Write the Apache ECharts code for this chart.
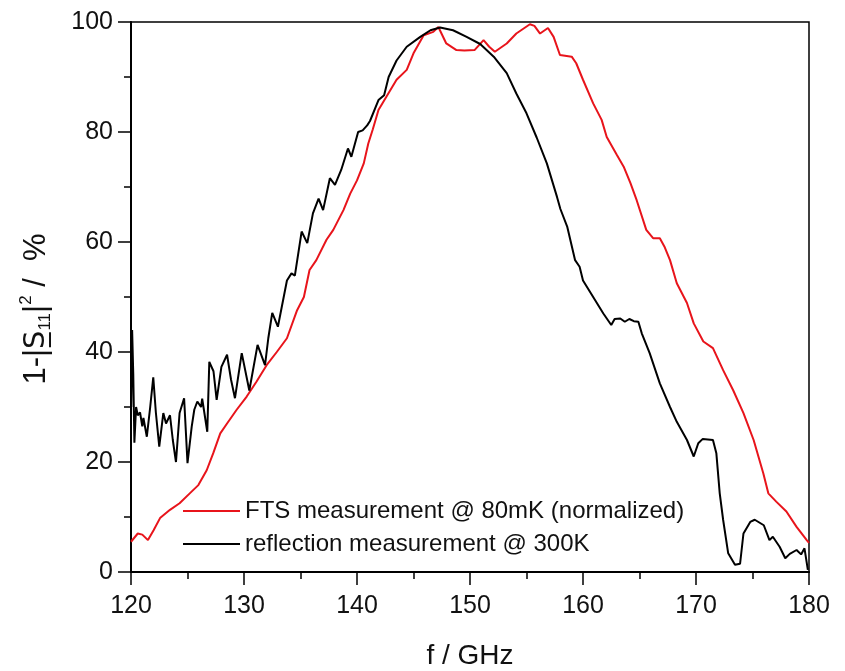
<!DOCTYPE html>
<html>
<head>
<meta charset="utf-8">
<script src="https://cdn.jsdelivr.net/npm/echarts@6/dist/echarts.min.js"></script>
<style>
html,body{margin:0;padding:0;background:#fff;}
#chart{width:845px;height:671px;}
</style>
</head>
<body>
<div id="chart"></div>
<script>
// Reflection measurement @ 300K (black)
var reflFreq = [120.02,120.1,120.2,120.3,120.45,120.6,120.8,121.0,121.1,121.4,121.7,121.97,122.2,122.5,122.86,123.1,123.45,123.7,123.98,124.3,124.7,125.0,125.37,125.6,125.87,126.2,126.3,126.75,126.93,127.3,127.58,128.0,128.5,128.85,129.2,129.8,130.47,131.2,131.86,132.15,132.5,133.0,133.8,134.2,134.5,135.1,135.6,136.1,136.6,137.0,137.6,138.05,138.6,139.2,139.5,140.1,140.5,140.9,141.15,141.9,142.4,142.8,143.5,144.4,145.6,146.5,147.35,148.5,149.7,150.9,152.1,153.25,154.1,155.0,155.9,156.8,157.7,158.0,158.6,159.3,159.7,160.0,160.9,161.8,162.5,162.8,163.3,163.7,164.1,164.5,164.9,165.2,165.9,166.8,167.7,168.3,169.2,169.8,170.2,170.6,171.5,171.8,172.1,172.4,172.85,173.45,173.9,174.2,174.8,175.2,176.0,176.5,176.8,177.4,177.9,178.3,178.9,179.3,179.6,179.9];
var reflValue = [30,44,36,23.5,30,28.5,29,26.5,28,24.6,30,35.4,29,22.8,28.9,27,28.5,24,20,28.9,31.6,19.8,26.4,29.5,31,30,31.5,25.5,38.2,36.5,31.3,37.3,39.5,35,31.6,39.8,33,41.3,37.6,42.5,47.1,44.6,53,54.3,53.9,61.9,59.8,65.2,67.9,65.8,71.6,70.4,73.1,77,75.5,80,80.3,81.2,82,85.8,86.7,90,93,95.5,97.3,98.5,99,98.5,97.3,96,93.7,90.7,87,83.4,79,74.3,68.2,66,62.8,56.7,55.5,53,50,47,44.9,46,46.1,45.5,46,45.6,45.5,43.4,39.8,34.3,30,27.3,24,21,23.4,24.2,24,21.6,14.3,9.5,3.4,1.3,1.5,7,9.1,9.5,8.5,5.8,6.4,4.6,2.5,3.3,4,3.2,4.3,0.4];

// FTS measurement @ 80mK (normalized) (red)
var ftsFreq = [120.0,120.15,120.6,121.0,121.5,122.0,122.57,123.45,124.3,125.2,125.96,126.7,127.28,127.9,128.5,129.35,130.24,131.1,132.0,132.9,133.8,134.7,135.3,135.8,136.4,137.3,137.9,138.8,139.4,140.0,140.6,141.0,141.4,141.9,142.6,143.5,144.4,145.0,145.9,146.75,147.2,147.9,148.8,149.5,150.4,151.2,151.7,152.2,153.25,154.1,155.3,155.7,156.2,156.9,157.4,157.96,159.0,159.4,160.0,160.9,161.65,162.1,163.0,163.6,164.2,164.75,165.6,166.2,166.8,167.2,167.7,168.3,169.2,169.8,170.65,171.5,172.4,173.3,174.2,175.1,175.96,176.4,177.1,178.0,178.9,179.8,180.0];
var ftsValue = [5.5,5.8,7,6.8,5.8,7.6,9.8,11.3,12.5,14.3,15.8,18.5,21.6,25.2,27,29.5,31.9,34.6,37.6,40,42.5,47.6,50,54.9,56.7,60.4,62.2,65.8,68.8,71.2,74.3,77.9,80.5,84,86.4,89.5,91.3,94.3,97.6,98.2,99.1,96.1,94.9,94.8,94.9,96.7,95.5,94.6,96.1,97.9,99.6,99.3,97.9,98.9,97.3,94,93.7,92.5,89.5,85.2,82.2,79.1,75.8,73.7,70.7,67.6,62.2,60.7,60.7,59.2,56.7,52.5,48.9,45.2,41.9,40.7,36.7,33,28.9,24,17.9,14.3,12.8,11,8.2,5.8,5.3];

var xTicks = [120,130,140,150,160,170,180];
var yTicks = [0,20,40,60,80,100];
var seriesNames = ['FTS measurement @ 80mK (normalized)','reflection measurement @ 300K'];

function pairs(xs, ys){ return xs.map(function(x,i){ return [x, ys[i]]; }); }

var FONT = '"Liberation Sans", Arial, Helvetica, sans-serif';
var chart = echarts.init(document.getElementById('chart'), null, {renderer:'canvas'});
chart.setOption({
  animation:false,
  backgroundColor:'#fff',
  grid:{left:131, right:36, top:22, bottom:99, containLabel:false, outerBoundsMode:'none',
        show:true, borderColor:'#000', borderWidth:1.5, backgroundColor:'transparent'},
  legend:{
    orient:'vertical', left:183, top:499, padding:0, icon:'rect',
    itemWidth:57, itemHeight:2.2, itemGap:9,
    data:seriesNames,
    textStyle:{fontFamily:FONT, fontSize:24, color:'#111', lineHeight:24},
    selectedMode:false
  },
  xAxis:{
    type:'value', min:xTicks[0], max:xTicks[xTicks.length-1], interval:10,
    name:'f / GHz', nameLocation:'middle', nameGap:70,
    nameTextStyle:{fontFamily:FONT, fontSize:28, color:'#111'},
    axisLine:{show:true, onZero:false, lineStyle:{color:'#000', width:2}},
    axisTick:{show:true, length:13, lineStyle:{color:'#000', width:1.5}},
    minorTick:{show:true, splitNumber:2, length:7, lineStyle:{color:'#000', width:1.5}},
    axisLabel:{fontFamily:FONT, fontSize:25, color:'#111', margin:22},
    splitLine:{show:false}
  },
  yAxis:{
    type:'value', min:yTicks[0], max:yTicks[yTicks.length-1], interval:20,
    name:'{a|1-|}{s|S\u0332}{sub|11}{a||}{sup|2}{a| /  %}',
    nameLocation:'middle', nameGap:77, nameRotate:90,
    nameTextStyle:{fontFamily:FONT, fontSize:31, color:'#111', padding:[0,24,0,0],
      rich:{
        a:{fontFamily:FONT, fontSize:31, color:'#111', lineHeight:36},
        s:{fontFamily:'"DejaVu Sans", "Liberation Sans", sans-serif', fontSize:29, color:'#111', lineHeight:36},
        sub:{fontFamily:FONT, fontSize:17, color:'#111', verticalAlign:'bottom', lineHeight:36},
        sup:{fontFamily:FONT, fontSize:17, color:'#111', verticalAlign:'top', lineHeight:36}
      }},
    axisLine:{show:true, onZero:false, lineStyle:{color:'#000', width:2}},
    axisTick:{show:true, length:13, lineStyle:{color:'#000', width:1.5}},
    minorTick:{show:true, splitNumber:2, length:7, lineStyle:{color:'#000', width:1.5}},
    axisLabel:{fontFamily:FONT, fontSize:25, color:'#111', margin:18},
    splitLine:{show:false}
  },
  series:[
    {name:seriesNames[0], type:'line', data:pairs(ftsFreq, ftsValue), symbol:'none',
     lineStyle:{color:'#e8141b', width:2}, itemStyle:{color:'#e8141b'}, z:2},
    {name:seriesNames[1], type:'line', data:pairs(reflFreq, reflValue), symbol:'none',
     lineStyle:{color:'#000', width:2}, itemStyle:{color:'#000'}, z:3}
  ]
});
</script>
</body>
</html>
